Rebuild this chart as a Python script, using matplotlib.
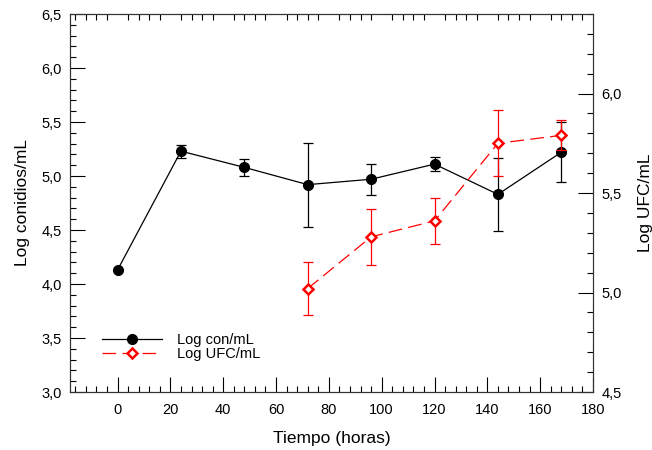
import matplotlib
matplotlib.use('Agg')
import matplotlib.pyplot as plt
from matplotlib.ticker import MultipleLocator, FuncFormatter
from matplotlib.lines import Line2D

plt.rcParams['font.family'] = ['Liberation Sans', 'DejaVu Sans']

# Log conidios/mL (left axis)
t_con = [0, 24, 48, 72, 96, 120, 144, 168]
log_con = [4.13, 5.23, 5.08, 4.92, 4.97, 5.11, 4.83, 5.22]
err_con = [0.0, 0.06, 0.08, 0.39, 0.145, 0.065, 0.34, 0.28]

# Log UFC/mL (right axis)
t_ufc = [72, 96, 120, 144, 168]
log_ufc = [5.02, 5.28, 5.36, 5.75, 5.79]
err_ufc = [0.135, 0.14, 0.115, 0.165, 0.075]

comma = FuncFormatter(lambda v, p: '{:.1f}'.format(v).replace('.', ','))

fig = plt.figure(figsize=(6.52, 4.5), dpi=100)
ax = fig.add_axes([70 / 652, 1 - 392 / 450, (593 - 70) / 652, (392 - 14) / 450])
ax2 = ax.twinx()

ax.errorbar(t_con, log_con, yerr=err_con, fmt='none', ecolor='black', elinewidth=0.9,
            capsize=3.6, capthick=0.9, zorder=2)
ax.plot(t_con, log_con, color='black', lw=0.9, marker='o', ms=7, zorder=3)

ax2.errorbar(t_ufc, log_ufc, yerr=err_ufc, fmt='none', ecolor='red', elinewidth=0.9,
             capsize=3.6, capthick=0.9, zorder=2)
ax2.plot(t_ufc, log_ufc, color='red', lw=0.9, dashes=(11, 5), marker='D', ms=5.5,
         mfc='white', mec='red', mew=1.8, zorder=3)

ax.set_xlim(-18, 180)
ax.set_ylim(3.0, 6.5)
ax2.set_ylim(4.5, 6.4)

ax.xaxis.set_major_locator(MultipleLocator(20))
ax.xaxis.set_minor_locator(MultipleLocator(4))
ax.yaxis.set_major_locator(MultipleLocator(0.5))
ax.yaxis.set_minor_locator(MultipleLocator(0.1))
ax2.yaxis.set_major_locator(MultipleLocator(0.5))
ax2.yaxis.set_minor_locator(MultipleLocator(0.1))
ax.yaxis.set_major_formatter(comma)
ax2.yaxis.set_major_formatter(comma)

ax.tick_params(axis='x', which='both', direction='in', labelsize=10.5, pad=8)
ax.tick_params(axis='x', which='minor', top=True)
ax.tick_params(axis='x', which='major', top=False)
ax.tick_params(axis='y', which='both', direction='in', labelsize=10.5, right=False, pad=6)
ax.tick_params(which='major', length=11, width=0.8)
ax.tick_params(which='minor', length=4.5, width=0.8)
ax2.tick_params(axis='y', which='both', direction='in', labelsize=10.5, width=0.8, pad=6)
ax2.tick_params(which='major', length=11)
ax2.tick_params(which='minor', length=4.5)

for a in (ax, ax2):
    for s in a.spines.values():
        s.set_linewidth(0.8)
        s.set_color('#333333')

ax.set_xlabel('Tiempo (horas)', fontsize=12.5, labelpad=10)
ax.set_ylabel('Log conidios/mL', fontsize=12.5, labelpad=8)
ax2.set_ylabel('Log UFC/mL', fontsize=12.5, labelpad=12)

handles = [
    Line2D([], [], color='black', lw=0.9, marker='o', ms=7),
    Line2D([], [], color='red', lw=0.9, dashes=(11, 5), marker='D', ms=5.5,
           mfc='white', mec='red', mew=1.8),
]
ax.legend(handles, ['Log con/mL', 'Log UFC/mL'], loc='lower left',
          bbox_to_anchor=(0.037, 0.046), frameon=False, fontsize=10.5,
          handlelength=4.1, labelspacing=0.05, handletextpad=1.0)

fig.savefig('out.png', dpi=100)
